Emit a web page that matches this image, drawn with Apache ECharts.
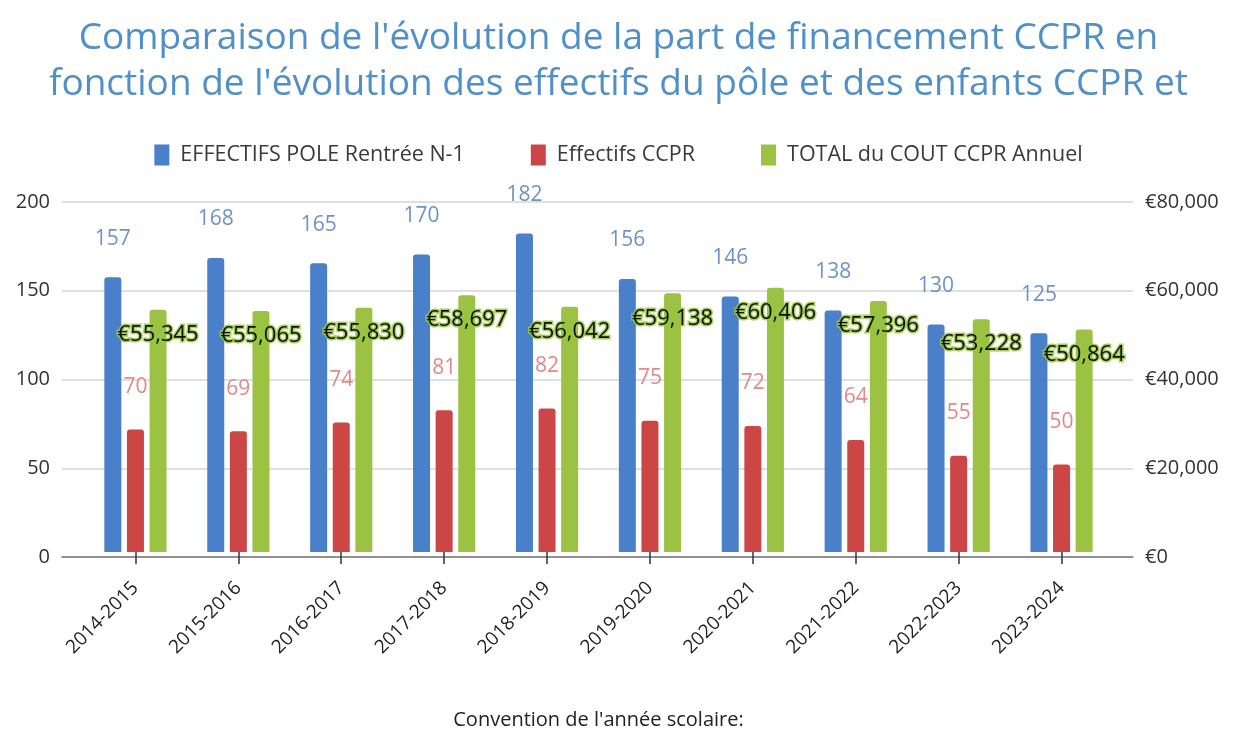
<!DOCTYPE html>
<html>
<head>
<meta charset="utf-8">
<script src="https://cdn.jsdelivr.net/npm/echarts@6/dist/echarts.min.js"></script>
<style>
  html, body { margin: 0; padding: 0; background: #fff; }
  #chart { width: 1237px; height: 731px; }
</style>
</head>
<body>
<div id="chart"></div>
<script>
// School years (x categories)
const years = ['2014-2015', '2015-2016', '2016-2017', '2017-2018', '2018-2019',
               '2019-2020', '2020-2021', '2021-2022', '2022-2023', '2023-2024'];
// Pupils of the pole at the start of year N-1
const effectifsPole = [157, 168, 165, 170, 182, 156, 146, 138, 130, 125];
// Children enrolled at the CCPR
const effectifsCcpr = [70, 69, 74, 81, 82, 75, 72, 64, 55, 50];
// Total yearly CCPR cost, in euros
const coutCcpr = [55345, 55065, 55830, 58697, 56042, 59138, 60406, 57396, 53228, 50864];
// Axis ticks
const leftTicks = [0, 50, 100, 150, 200];
const rightTicks = [0, 20000, 40000, 60000, 80000];

const euro = v => '€' + Number(v).toLocaleString('en-US');
const FONT = '"Open Sans", "DejaVu Sans", sans-serif';

const chart = echarts.init(document.getElementById('chart'));

const leftMax = leftTicks[leftTicks.length - 1];
const rightMax = rightTicks[rightTicks.length - 1];
const leftStep = leftTicks[1] - leftTicks[0];
const rightStep = rightTicks[1] - rightTicks[0];

const barBase = {
  type: 'bar',
  xAxisIndex: 1,
  barWidth: 17,
  barGap: '33%'
};

chart.setOption({
  animation: false,
  title: {
    text: "Comparaison de l'évolution de la part de financement CCPR en\nfonction de l'évolution des effectifs du pôle et des enfants CCPR et",
    left: 'center',
    top: 10,
    textStyle: { fontFamily: FONT, fontSize: 37, fontWeight: 'normal', color: '#5090c8', lineHeight: 46 }
  },
  legend: {
    top: 139,
    left: 'center',
    itemWidth: 15,
    itemHeight: 21,
    itemGap: 66,
    icon: 'rect',
    textStyle: { fontFamily: FONT, fontSize: 21.5, color: '#3a3a3a', padding: [0, 0, 0, 6] },
    data: ['EFFECTIFS POLE Rentrée N-1', 'Effectifs CCPR', 'TOTAL du COUT CCPR Annuel']
  },
  grid: [
    { left: 62, right: 104, top: 202, bottom: 174 },
    { left: 84, right: 124, top: 202, bottom: 174 }
  ],
  xAxis: [
    {
      type: 'category', gridIndex: 0, data: years,
      axisLine: { lineStyle: { color: '#777', width: 1.5 } },
      axisTick: { show: false }, axisLabel: { show: false }
    },
    {
      type: 'category', gridIndex: 1, data: years,
      axisLine: { show: false },
      axisTick: { show: true, alignWithLabel: true, length: 12, lineStyle: { color: '#333', width: 1.5 } },
      axisLabel: { rotate: 45, margin: 33, fontFamily: FONT, fontSize: 19, color: '#222' },
      name: "Convention de l'année scolaire:",
      nameLocation: 'middle',
      nameGap: 158,
      nameTextStyle: { fontFamily: FONT, fontSize: 20, color: '#222' }
    }
  ],
  yAxis: [
    {
      type: 'value', gridIndex: 0, min: 0, max: leftMax, interval: leftStep,
      axisLine: { show: false }, axisTick: { show: false },
      axisLabel: { margin: 12, fontFamily: FONT, fontSize: 20, color: '#333' },
      splitLine: { lineStyle: { color: '#d6d6d6', width: 1.5 } }
    },
    {
      type: 'value', gridIndex: 0, position: 'right', min: 0, max: rightMax, interval: rightStep,
      axisLine: { show: false }, axisTick: { show: false },
      axisLabel: { margin: 12, fontFamily: FONT, fontSize: 20, color: '#333', formatter: euro },
      splitLine: { show: false }
    },
    { type: 'value', gridIndex: 1, min: 0, max: leftMax, show: false },
    { type: 'value', gridIndex: 1, min: 0, max: rightMax, show: false, position: 'right' }
  ],
  series: [
    Object.assign({}, barBase, {
      name: 'EFFECTIFS POLE Rentrée N-1',
      yAxisIndex: 2,
      data: effectifsPole,
      itemStyle: { color: '#4a7fc9', borderRadius: [3, 3, 0, 0] },
      label: { show: true, position: 'top', distance: 28, fontFamily: FONT, fontSize: 21, color: '#6f93c6' }
    }),
    Object.assign({}, barBase, {
      name: 'Effectifs CCPR',
      yAxisIndex: 2,
      data: effectifsCcpr,
      itemStyle: { color: '#cc4646', borderRadius: [3, 3, 0, 0] },
      label: { show: true, position: 'top', distance: 32, fontFamily: FONT, fontSize: 21, color: '#e08a8a' }
    }),
    Object.assign({}, barBase, {
      name: 'TOTAL du COUT CCPR Annuel',
      yAxisIndex: 3,
      data: coutCcpr,
      itemStyle: { color: '#9cc244', borderRadius: [3, 3, 0, 0] },
      label: {
        show: true, position: 'insideTop', distance: 14,
        fontFamily: FONT, fontSize: 22, color: '#111',
        textBorderColor: 'rgba(150,200,60,0.85)', textBorderWidth: 3,
        formatter: p => euro(p.value)
      }
    })
  ]
});
</script>
</body>
</html>
